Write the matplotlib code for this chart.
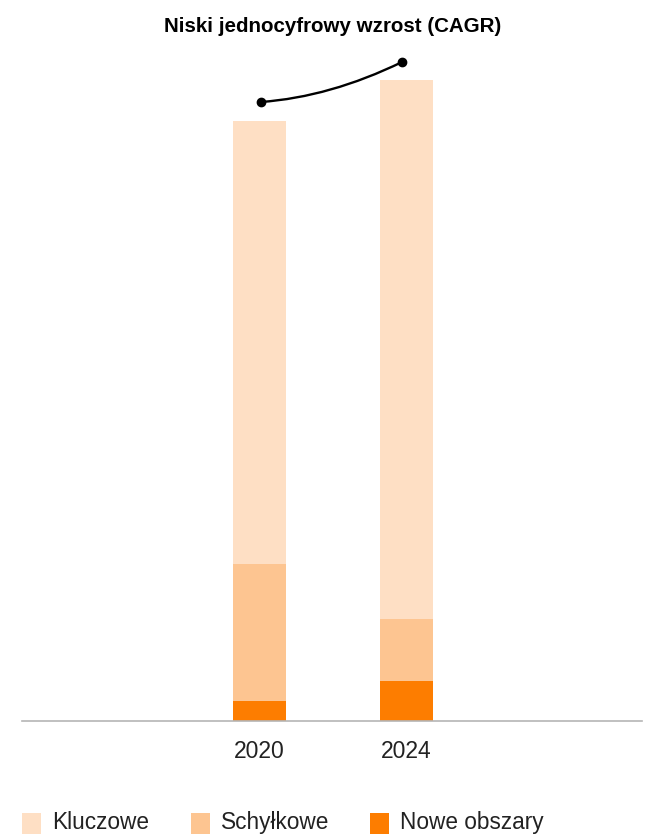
import matplotlib
matplotlib.use("Agg")
import matplotlib.pyplot as plt
from matplotlib.path import Path
from matplotlib.patches import PathPatch, Rectangle
import numpy as np

plt.rcParams['font.family'] = ['Liberation Sans', 'DejaVu Sans']

years = ["2020", "2024"]
series_names = ["Kluczowe", "Schyłkowe", "Nowe obszary"]
nowe = [20, 40]
schylkowe = [137, 62]
kluczowe = [443, 539]
colors = ["#FEDFC4", "#FDC591", "#FD7D00"]
title = "Niski jednocyfrowy wzrost (CAGR)"

W, H = 658, 834
fig = plt.figure(figsize=(W / 100, H / 100), dpi=100)
ax = fig.add_axes([22 / W, (H - 721) / H, 620 / W, 700 / H])

x = np.arange(len(years))
width = 53 / 147
ax.bar(x, nowe, width, color=colors[2], linewidth=0)
bottom2 = np.array(nowe)
ax.bar(x, schylkowe, width, bottom=bottom2, color=colors[1], linewidth=0)
bottom3 = bottom2 + np.array(schylkowe)
ax.bar(x, kluczowe, width, bottom=bottom3, color=colors[0], linewidth=0)
totals = bottom3 + np.array(kluczowe)

ax.set_xlim(-1.6156, 2.602)
ax.set_ylim(0, 700)
ax.set_xticks(x)
ax.set_xticklabels(years, fontsize=16.5, color="#222222")
ax.tick_params(axis='x', length=0, pad=14)
ax.set_yticks([])
for s in ["left", "right", "top"]:
    ax.spines[s].set_visible(False)
ax.spines["bottom"].set_color("#B5B5B5")
ax.spines["bottom"].set_linewidth(1.2)

# CAGR annotation curve
p0 = (x[0] + 0.01, totals[0] + 19)
p2 = (x[1] - 0.03, totals[1] + 18)
p1 = (x[0] + 0.48, totals[0] + 24)
path = Path([p0, p1, p2], [Path.MOVETO, Path.CURVE3, Path.CURVE3])
ax.add_patch(PathPatch(path, facecolor="none", edgecolor="black", lw=1.7, clip_on=False))
ax.plot([p0[0], p2[0]], [p0[1], p2[1]], "o", color="black", markersize=6, clip_on=False)

fig.text(332.5 / W, 1 - 27 / H, title, ha="center", va="center",
         fontsize=14.8, fontweight="bold", color="black")

# legend
leg_x = [22, 191, 370]
for name, c, lx in zip(series_names, colors, leg_x):
    fig.patches.append(Rectangle((lx / W, 1 - 836 / H), 19 / W, 23 / H,
                                 transform=fig.transFigure, facecolor=c, edgecolor="none"))
    fig.text((lx + 30) / W, 1 - 829 / H, name, ha="left", va="baseline",
             fontsize=16.3, color="#222222")

fig.savefig("out.png", dpi=100)
